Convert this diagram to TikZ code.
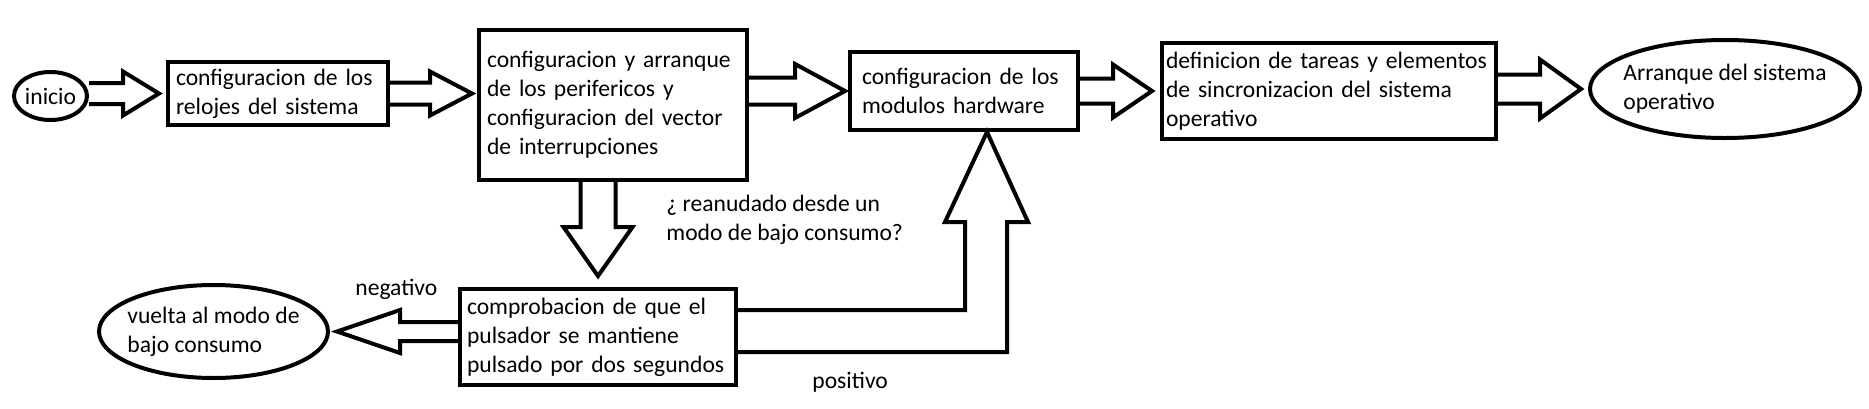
\documentclass[tikz,border=0pt]{standalone}
\usepackage{fontspec}
\setmainfont{Carlito}
\usetikzlibrary{shapes.geometric,calc}
% flecha hueca: desde, hasta, hueco, medio cuerpo, media punta, largo punta
\newcommand{\flecha}[6]{%
  \coordinate (punta) at ($(#2)-(#3,0)$);
  \draw[flecha] ($(#1 |- punta)+(0,#4)$) -- ($(punta)-(#6,-#4)$) -- ($(punta)-(#6,-#5)$)
    -- (punta) -- ($(punta)-(#6,#5)$) -- ($(punta)-(#6,#4)$) -- ($(#1 |- punta)-(0,#4)$);}
\begin{document}
\begin{tikzpicture}[x=0.5pt, y=-0.5pt,
    caja/.style={draw, line width=2pt, rectangle, align=left, inner sep=2pt,
      font=\fontsize{11.8pt}{14.5pt}\selectfont},
    term/.style={draw, line width=2pt, ellipse, align=left, inner xsep=-4pt,
      inner ysep=0pt, font=\fontsize{11.8pt}{14.5pt}\selectfont},
    etiqueta/.style={inner sep=0pt, align=left, font=\fontsize{11.8pt}{14.5pt}\selectfont},
    flecha/.style={line width=2pt}]
    \useasboundingbox (0,0) rectangle (1869,408);
    % bloques
    \path (50.5,96) node[term, inner xsep=0pt, minimum width=36.5pt, minimum height=24pt] (inicio) {inicio};
    \path (278,93.5) node[caja, text width=102pt, minimum width=110pt, minimum height=31.5pt] (relojes)
      {configuracion de los\\relojes del sistema};
    \path (613,105) node[caja, text width=126pt, minimum width=134pt, minimum height=75pt] (perif)
      {configuracion y arranque\\de los perifericos y\\configuracion del vector\\de interrupciones};
    \path (964,91) node[caja, text width=102pt, minimum width=114pt, minimum height=39pt] (modulos)
      {configuracion de los\\modulos hardware};
    \path (1329,91) node[caja, text width=163pt, minimum width=167pt, minimum height=48pt] (tareas)
      {definicion de tareas y elementos\\de sincronizacion del sistema\\operativo};
    \path (1725,89) node[term, minimum width=135pt, minimum height=49pt] (arranque)
      {Arranque del sistema\\operativo};
    \path (598,337) node[caja, text width=131pt, minimum width=138pt, minimum height=48pt] (pulsador)
      {comprobacion de que el\\pulsador se mantiene\\pulsado por dos segundos};
    \path (213.5,331.5) node[term, minimum width=114.5pt, minimum height=46.5pt] (vuelta)
      {vuelta al modo de\\bajo consumo};
    % etiquetas
    \path (666,240) node[etiqueta, anchor=base west] (reanudado) {¿ reanudado desde un\\modo de bajo consumo?};
    \path (355,295) node[etiqueta, anchor=base west] (negativo) {negativo};
    \path (812,388) node[etiqueta, anchor=base west] (positivo) {positivo};
    % flechas
    \flecha{inicio.east}{relojes.west}{7}{10.5}{22}{36}
    \flecha{relojes.east}{perif.west |- relojes.east}{5}{11}{22}{42}
    \flecha{perif.east}{modulos.west}{3}{13.5}{27}{50}
    \flecha{modulos.east}{tareas.west}{8}{12.5}{26.5}{39}
    \flecha{tareas.east}{arranque.west}{7}{14.5}{29.5}{41}
    \flecha{pulsador.west}{vuelta.east}{-7}{9.5}{21.5}{-63}
    \coordinate (abajo) at ($(pulsador.north)+(0,-11)$);
    \draw[flecha] ($(perif.south -| abajo)+(-17.5,0)$) -- ($(abajo)+(-17.5,-49)$) -- ($(abajo)+(-34.5,-49)$)
      -- (abajo) -- ($(abajo)+(34.5,-49)$) -- ($(abajo)+(17.5,-49)$) -- ($(perif.south -| abajo)+(17.5,0)$);
    \coordinate (arriba) at ($(modulos.south)+(23,0)$);
    \draw[flecha] ($(pulsador.east)+(0,-27)$) -| ($(arriba)+(-22,90)$) -- ($(arriba)+(-42,90)$)
      -- (arriba) -- ($(arriba)+(41,90)$) -- ($(arriba)+(20,90)$) |- ($(pulsador.east)+(0,15)$);
\end{tikzpicture}
\end{document}
